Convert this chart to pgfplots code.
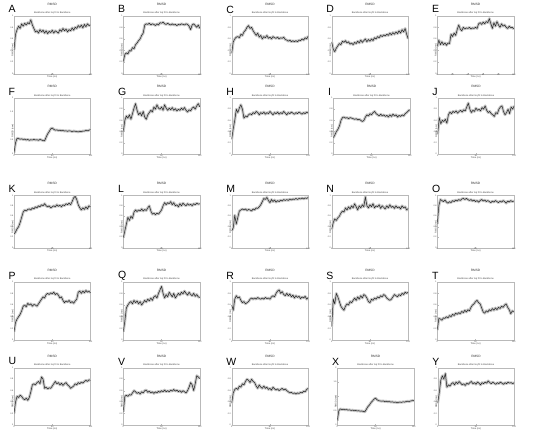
\documentclass[border=0pt]{standalone}
\usepackage{fontspec}
\setmainfont{Liberation Sans}
\usepackage{pgfplots}
\pgfplotsset{compat=1.18}
\pgfplotsset{
 panel/.style={
  scale only axis, width=76.5bp, anchor=north west,
  xmin=0, xmax=100, ymin=0, ymax=1,
  xtick={0,50,100}, ytick={0,0.2,0.4,0.6,0.8,1},
  axis line style={gray!55, line width=0.25pt},
  major tick length=1.2bp,
  tick style={gray!55, line width=0.25pt},
  xtick pos=bottom, ytick pos=left,
  tick label style={font=\fontsize{2.1}{2.5}\selectfont, text=black!75, inner sep=0.6bp},
  /pgf/number format/assume math mode=true,
  xlabel={Time (ns)}, ylabel={RMSD (nm)},
  label style={font=\fontsize{2.4}{2.8}\selectfont, text=black!75, inner sep=0pt},
  xlabel style={yshift=0.6bp},
  ylabel style={at={(rel axis cs:0,0.5)}, anchor=south, xshift=-5.2bp},
  title={RMSD},
  title style={at={(0.5,1)}, anchor=south, yshift=4.2bp, inner sep=0pt, font=\fontsize{3.2}{3.6}\selectfont, text=black!80},
  clip mode=individual,
  after end axis/.code={\node[subt] at (rel axis cs:0.5,1) {Backbone after lsq fit to Backbone};},
 },
 big/.style={ymax=2, ytick={0,0.5,1,1.5,2}},
 rline/.style={black!85, line width=0.5pt, line join=round, mark=none,
   preaction={draw=gray!45, line width=2.8pt, line join=round}},
}
\tikzset{letter/.style={anchor=west, font=\fontsize{10.5}{10.5}\selectfont, inner sep=0pt, xshift=-5.5bp, yshift=6.3bp},
 subt/.style={anchor=south, inner sep=0pt, yshift=1.2bp, font=\fontsize{2.4}{2.8}\selectfont, text=black!75}}
\begin{document}
\begin{tikzpicture}
\useasboundingbox (0,0) rectangle (550bp,-440bp);
% ---------- row 1
\begin{axis}[panel, at={(14bp,-15.7bp)}, height=58bp]
\addplot[rline] coordinates {(0,0.41)(2,0.68)(4,0.76)(6,0.82)(8,0.78)(10,0.86)(12,0.82)(14,0.87)(16,0.84)(18,0.88)(20,0.86)(22,0.93)(24,0.84)(26,0.78)(28,0.72)(30,0.74)(32,0.70)(34,0.76)(36,0.72)(38,0.75)(40,0.70)(42,0.74)(44,0.69)(46,0.73)(48,0.71)(50,0.75)(52,0.70)(54,0.74)(56,0.72)(58,0.70)(60,0.76)(62,0.73)(64,0.78)(66,0.74)(68,0.77)(70,0.72)(72,0.76)(74,0.74)(76,0.79)(78,0.75)(80,0.80)(82,0.78)(84,0.83)(86,0.80)(88,0.84)(90,0.79)(92,0.85)(94,0.81)(96,0.86)(98,0.83)(100,0.84)};
\node[letter] at (rel axis cs:0,1) {A};
\end{axis}
\begin{axis}[panel, at={(123.3bp,-15.7bp)}, height=58bp]
\addplot[rline] coordinates {(0,0.21)(2,0.33)(4,0.36)(6,0.34)(8,0.40)(10,0.39)(12,0.45)(14,0.43)(16,0.50)(18,0.53)(20,0.57)(22,0.60)(24,0.66)(26,0.70)(28,0.84)(30,0.86)(32,0.85)(34,0.87)(36,0.84)(38,0.86)(40,0.85)(42,0.83)(44,0.86)(46,0.84)(48,0.88)(50,0.87)(52,0.89)(54,0.86)(56,0.85)(58,0.87)(60,0.85)(62,0.84)(64,0.86)(66,0.84)(68,0.85)(70,0.83)(72,0.85)(74,0.84)(76,0.86)(78,0.85)(80,0.84)(82,0.86)(84,0.85)(86,0.82)(88,0.76)(90,0.84)(92,0.86)(94,0.83)(96,0.80)(98,0.84)(100,0.78)};
\node[letter] at (rel axis cs:0,1) {B};
\end{axis}
\begin{axis}[panel, at={(231.7bp,-15.7bp)}, height=58bp]
\addplot[rline] coordinates {(0,0.35)(2,0.55)(4,0.60)(6,0.63)(8,0.64)(10,0.62)(12,0.68)(14,0.66)(16,0.72)(18,0.75)(20,0.80)(22,0.83)(24,0.78)(26,0.80)(28,0.74)(30,0.70)(32,0.66)(34,0.70)(36,0.63)(38,0.66)(40,0.60)(42,0.64)(44,0.62)(46,0.66)(48,0.61)(50,0.63)(52,0.60)(54,0.64)(56,0.62)(58,0.61)(60,0.63)(62,0.60)(64,0.62)(66,0.61)(68,0.63)(70,0.59)(72,0.58)(74,0.56)(76,0.58)(78,0.55)(80,0.57)(82,0.55)(84,0.57)(86,0.55)(88,0.58)(90,0.57)(92,0.60)(94,0.58)(96,0.62)(98,0.60)(100,0.65)};
\node[letter] at (rel axis cs:0,1) {C};
\end{axis}
\begin{axis}[panel, at={(331.7bp,-15.7bp)}, height=58bp]
\addplot[rline] coordinates {(0,0.55)(2,0.42)(4,0.38)(6,0.44)(8,0.48)(10,0.52)(12,0.50)(14,0.56)(16,0.54)(18,0.57)(20,0.53)(22,0.55)(24,0.51)(26,0.53)(28,0.50)(30,0.54)(32,0.52)(34,0.56)(36,0.53)(38,0.58)(40,0.54)(42,0.57)(44,0.60)(46,0.55)(48,0.59)(50,0.56)(52,0.60)(54,0.57)(56,0.62)(58,0.60)(60,0.64)(62,0.62)(64,0.66)(66,0.64)(68,0.67)(70,0.65)(72,0.68)(74,0.66)(76,0.70)(78,0.67)(80,0.71)(82,0.68)(84,0.72)(86,0.69)(88,0.74)(90,0.70)(92,0.76)(94,0.72)(96,0.78)(98,0.68)(100,0.60)};
\node[letter] at (rel axis cs:0,1) {D};
\end{axis}
\begin{axis}[panel, at={(437.3bp,-15.7bp)}, height=58bp, xtick={0,20,40,60,80,100}]
\addplot[rline] coordinates {(0,0.47)(2,0.58)(4,0.50)(6,0.55)(8,0.50)(10,0.53)(12,0.49)(14,0.53)(16,0.52)(18,0.68)(20,0.64)(22,0.70)(24,0.66)(26,0.76)(28,0.84)(30,0.77)(32,0.74)(34,0.80)(36,0.77)(38,0.79)(40,0.78)(42,0.80)(44,0.77)(46,0.79)(48,0.78)(50,0.80)(52,0.78)(54,0.86)(56,0.88)(58,0.85)(60,0.89)(62,0.86)(64,0.90)(66,0.88)(68,0.95)(70,0.86)(72,0.78)(74,0.88)(76,0.82)(78,0.90)(80,0.84)(82,0.80)(84,0.86)(86,0.82)(88,0.84)(90,0.80)(92,0.78)(94,0.82)(96,0.79)(98,0.80)(100,0.77)};
\node[letter] at (rel axis cs:0,1) {E};
\end{axis}
% ---------- row 2
\begin{axis}[panel, big, at={(14bp,-98bp)}, height=56bp]
\addplot[rline] coordinates {(0,0.05)(2,0.40)(4,0.56)(6,0.55)(8,0.53)(10,0.54)(12,0.52)(14,0.53)(16,0.50)(18,0.52)(20,0.49)(22,0.51)(24,0.50)(26,0.52)(28,0.50)(30,0.51)(32,0.49)(34,0.52)(36,0.50)(38,0.48)(40,0.47)(42,0.60)(44,0.72)(46,0.80)(48,0.90)(50,0.93)(52,0.88)(54,0.85)(56,0.86)(58,0.84)(60,0.85)(62,0.83)(64,0.84)(66,0.82)(68,0.83)(70,0.81)(72,0.83)(74,0.82)(76,0.80)(78,0.82)(80,0.81)(82,0.80)(84,0.79)(86,0.81)(88,0.80)(90,0.82)(92,0.82)(94,0.84)(96,0.83)(98,0.85)(100,0.87)};
\node[letter] at (rel axis cs:0,1) {F};
\end{axis}
\begin{axis}[panel, at={(123.3bp,-98bp)}, height=56bp]
\addplot[rline] coordinates {(0,0.40)(2,0.60)(4,0.68)(6,0.64)(8,0.70)(10,0.62)(12,0.72)(14,0.82)(16,0.90)(18,0.78)(20,0.70)(22,0.74)(24,0.68)(26,0.76)(28,0.66)(30,0.62)(32,0.70)(34,0.74)(36,0.78)(38,0.75)(40,0.84)(42,0.80)(44,0.88)(46,0.82)(48,0.80)(50,0.84)(52,0.78)(54,0.88)(56,0.82)(58,0.78)(60,0.82)(62,0.79)(64,0.83)(66,0.78)(68,0.81)(70,0.77)(72,0.80)(74,0.78)(76,0.82)(78,0.79)(80,0.83)(82,0.78)(84,0.75)(86,0.79)(88,0.77)(90,0.82)(92,0.84)(94,0.80)(96,0.86)(98,0.90)(100,0.84)};
\node[letter] at (rel axis cs:0,1) {G};
\end{axis}
\begin{axis}[panel, at={(231.7bp,-98bp)}, height=56bp]
\addplot[rline] coordinates {(0,0.26)(2,0.45)(4,0.60)(6,0.80)(8,0.74)(10,0.82)(12,0.88)(14,0.80)(16,0.64)(18,0.68)(20,0.66)(22,0.70)(24,0.72)(26,0.70)(28,0.74)(30,0.72)(32,0.76)(34,0.74)(36,0.70)(38,0.74)(40,0.72)(42,0.75)(44,0.71)(46,0.74)(48,0.72)(50,0.76)(52,0.73)(54,0.70)(56,0.74)(58,0.72)(60,0.75)(62,0.71)(64,0.74)(66,0.72)(68,0.76)(70,0.73)(72,0.70)(74,0.74)(76,0.72)(78,0.75)(80,0.73)(82,0.71)(84,0.74)(86,0.72)(88,0.75)(90,0.73)(92,0.71)(94,0.74)(96,0.72)(98,0.75)(100,0.73)};
\node[letter] at (rel axis cs:0,1) {H};
\end{axis}
\begin{axis}[panel, at={(333.3bp,-98bp)}, height=56bp]
\addplot[rline] coordinates {(0,0.29)(2,0.34)(4,0.40)(6,0.44)(8,0.50)(10,0.60)(12,0.65)(14,0.66)(16,0.64)(18,0.65)(20,0.63)(22,0.65)(24,0.64)(26,0.63)(28,0.62)(30,0.63)(32,0.61)(34,0.62)(36,0.60)(38,0.58)(40,0.60)(42,0.66)(44,0.70)(46,0.68)(48,0.72)(50,0.70)(52,0.74)(54,0.76)(56,0.72)(58,0.70)(60,0.68)(62,0.71)(64,0.68)(66,0.70)(68,0.67)(70,0.69)(72,0.66)(74,0.70)(76,0.67)(78,0.71)(80,0.68)(82,0.70)(84,0.66)(86,0.69)(88,0.67)(90,0.70)(92,0.68)(94,0.72)(96,0.74)(98,0.77)(100,0.79)};
\node[letter] at (rel axis cs:0,1) {I};
\end{axis}
\begin{axis}[panel, at={(437.7bp,-98bp)}, height=56bp]
\addplot[rline] coordinates {(0,0.35)(2,0.65)(4,0.54)(6,0.60)(8,0.58)(10,0.62)(12,0.55)(14,0.70)(16,0.75)(18,0.72)(20,0.76)(22,0.74)(24,0.77)(26,0.73)(28,0.76)(30,0.78)(32,0.75)(34,0.79)(36,0.77)(38,0.84)(40,0.91)(42,0.80)(44,0.74)(46,0.78)(48,0.76)(50,0.82)(52,0.78)(54,0.80)(56,0.77)(58,0.83)(60,0.80)(62,0.86)(64,0.78)(66,0.74)(68,0.76)(70,0.72)(72,0.70)(74,0.67)(76,0.74)(78,0.72)(80,0.80)(82,0.84)(84,0.86)(86,0.76)(88,0.70)(90,0.74)(92,0.80)(94,0.72)(96,0.84)(98,0.80)(100,0.86)};
\node[letter] at (rel axis cs:0,1) {J};
\end{axis}
% ---------- row 3
\begin{axis}[panel, at={(14bp,-195.3bp)}, height=52.4bp]
\addplot[rline] coordinates {(0,0.26)(2,0.30)(4,0.36)(6,0.40)(8,0.48)(10,0.58)(12,0.68)(14,0.72)(16,0.70)(18,0.73)(20,0.74)(22,0.72)(24,0.76)(26,0.74)(28,0.78)(30,0.76)(32,0.80)(34,0.78)(36,0.82)(38,0.80)(40,0.84)(42,0.80)(44,0.78)(46,0.80)(48,0.76)(50,0.78)(52,0.80)(54,0.78)(56,0.82)(58,0.79)(60,0.81)(62,0.78)(64,0.82)(66,0.80)(68,0.84)(70,0.82)(72,0.85)(74,0.82)(76,0.88)(78,0.95)(80,0.98)(82,0.92)(84,0.82)(86,0.76)(88,0.72)(90,0.76)(92,0.73)(94,0.78)(96,0.74)(98,0.80)(100,0.78)};
\node[letter] at (rel axis cs:0,1) {K};
\end{axis}
\begin{axis}[panel, at={(123.3bp,-195.3bp)}, height=52.4bp]
\addplot[rline] coordinates {(0,0.19)(2,0.32)(4,0.45)(6,0.58)(8,0.52)(10,0.60)(12,0.56)(14,0.68)(16,0.72)(18,0.69)(20,0.72)(22,0.70)(24,0.74)(26,0.70)(28,0.73)(30,0.71)(32,0.76)(34,0.80)(36,0.70)(38,0.64)(40,0.66)(42,0.63)(44,0.66)(46,0.64)(48,0.68)(50,0.72)(52,0.80)(54,0.86)(56,0.82)(58,0.86)(60,0.84)(62,0.88)(64,0.82)(66,0.86)(68,0.80)(70,0.82)(72,0.78)(74,0.84)(76,0.80)(78,0.85)(80,0.82)(82,0.80)(84,0.84)(86,0.81)(88,0.83)(90,0.80)(92,0.84)(94,0.82)(96,0.85)(98,0.83)(100,0.84)};
\node[letter] at (rel axis cs:0,1) {L};
\end{axis}
\begin{axis}[panel, at={(231.7bp,-195.3bp)}, height=52.4bp]
\addplot[rline] coordinates {(0,0.32)(2,0.38)(4,0.62)(6,0.45)(8,0.58)(10,0.70)(12,0.72)(14,0.74)(16,0.72)(18,0.74)(20,0.71)(22,0.73)(24,0.72)(26,0.70)(28,0.74)(30,0.72)(32,0.76)(34,0.75)(36,0.78)(38,0.82)(40,0.88)(42,0.94)(44,0.92)(46,0.96)(48,0.90)(50,0.86)(52,0.92)(54,0.88)(56,0.91)(58,0.87)(60,0.90)(62,0.88)(64,0.91)(66,0.89)(68,0.92)(70,0.90)(72,0.92)(74,0.90)(76,0.93)(78,0.91)(80,0.93)(82,0.92)(84,0.94)(86,0.92)(88,0.94)(90,0.93)(92,0.95)(94,0.93)(96,0.95)(98,0.94)(100,0.96)};
\node[letter] at (rel axis cs:0,1) {M};
\end{axis}
\begin{axis}[panel, at={(331.7bp,-195.3bp)}, height=52.4bp]
\addplot[rline] coordinates {(0,0.35)(2,0.48)(4,0.55)(6,0.52)(8,0.57)(10,0.60)(12,0.66)(14,0.70)(16,0.68)(18,0.76)(20,0.72)(22,0.78)(24,0.74)(26,0.80)(28,0.76)(30,0.84)(32,0.78)(34,0.72)(36,0.80)(38,0.76)(40,0.82)(42,0.78)(44,0.97)(46,0.80)(48,0.76)(50,0.82)(52,0.78)(54,0.84)(56,0.76)(58,0.80)(60,0.78)(62,0.82)(64,0.75)(66,0.80)(68,0.77)(70,0.74)(72,0.80)(74,0.76)(76,0.82)(78,0.77)(80,0.79)(82,0.75)(84,0.80)(86,0.76)(88,0.78)(90,0.74)(92,0.80)(94,0.76)(96,0.78)(98,0.72)(100,0.75)};
\node[letter] at (rel axis cs:0,1) {N};
\end{axis}
\begin{axis}[panel, at={(437.3bp,-195.3bp)}, height=52.4bp]
\addplot[rline] coordinates {(0,0.45)(2,0.80)(4,0.92)(6,0.90)(8,0.88)(10,0.91)(12,0.87)(14,0.85)(16,0.88)(18,0.86)(20,0.90)(22,0.88)(24,0.91)(26,0.89)(28,0.92)(30,0.90)(32,0.93)(34,0.94)(36,0.92)(38,0.94)(40,0.92)(42,0.90)(44,0.92)(46,0.89)(48,0.91)(50,0.88)(52,0.90)(54,0.87)(56,0.90)(58,0.92)(60,0.89)(62,0.91)(64,0.88)(66,0.90)(68,0.88)(70,0.86)(72,0.89)(74,0.87)(76,0.90)(78,0.88)(80,0.86)(82,0.89)(84,0.87)(86,0.90)(88,0.88)(90,0.85)(92,0.89)(94,0.87)(96,0.90)(98,0.88)(100,0.89)};
\node[letter] at (rel axis cs:0,1) {O};
\end{axis}
% ---------- row 4
\begin{axis}[panel, at={(14bp,-281.7bp)}, height=58.3bp]
\addplot[rline] coordinates {(0,0.14)(2,0.30)(4,0.36)(6,0.40)(8,0.44)(10,0.50)(12,0.58)(14,0.60)(16,0.57)(18,0.63)(20,0.60)(22,0.62)(24,0.58)(26,0.61)(28,0.60)(30,0.58)(32,0.62)(34,0.66)(36,0.70)(38,0.74)(40,0.72)(42,0.78)(44,0.80)(46,0.78)(48,0.81)(50,0.79)(52,0.82)(54,0.78)(56,0.80)(58,0.77)(60,0.72)(62,0.74)(64,0.68)(66,0.64)(68,0.67)(70,0.65)(72,0.68)(74,0.64)(76,0.66)(78,0.63)(80,0.67)(82,0.70)(84,0.82)(86,0.84)(88,0.80)(90,0.84)(92,0.81)(94,0.85)(96,0.82)(98,0.84)(100,0.81)};
\node[letter] at (rel axis cs:0,1) {P};
\end{axis}
\begin{axis}[panel, at={(123.3bp,-281.7bp)}, height=58.3bp]
\addplot[rline] coordinates {(0,0.14)(2,0.32)(4,0.55)(6,0.60)(8,0.64)(10,0.66)(12,0.62)(14,0.68)(16,0.64)(18,0.67)(20,0.62)(22,0.66)(24,0.60)(26,0.64)(28,0.68)(30,0.65)(32,0.70)(34,0.67)(36,0.72)(38,0.68)(40,0.74)(42,0.76)(44,0.72)(46,0.80)(48,0.86)(50,0.92)(52,0.80)(54,0.72)(56,0.78)(58,0.74)(60,0.82)(62,0.78)(64,0.74)(66,0.80)(68,0.72)(70,0.76)(72,0.80)(74,0.77)(76,0.82)(78,0.79)(80,0.84)(82,0.80)(84,0.77)(86,0.82)(88,0.78)(90,0.76)(92,0.80)(94,0.75)(96,0.78)(98,0.74)(100,0.73)};
\node[letter] at (rel axis cs:0,1) {Q};
\end{axis}
\begin{axis}[panel, at={(231.7bp,-281.7bp)}, height=58.3bp]
\addplot[rline] coordinates {(0,0.60)(2,0.51)(4,0.70)(6,0.76)(8,0.72)(10,0.74)(12,0.68)(14,0.64)(16,0.66)(18,0.62)(20,0.64)(22,0.66)(24,0.70)(26,0.72)(28,0.70)(30,0.72)(32,0.70)(34,0.73)(36,0.71)(38,0.70)(40,0.72)(42,0.70)(44,0.73)(46,0.71)(48,0.72)(50,0.70)(52,0.74)(54,0.76)(56,0.74)(58,0.80)(60,0.84)(62,0.86)(64,0.80)(66,0.83)(68,0.78)(70,0.76)(72,0.80)(74,0.76)(76,0.79)(78,0.74)(80,0.77)(82,0.72)(84,0.76)(86,0.73)(88,0.75)(90,0.71)(92,0.74)(94,0.72)(96,0.75)(98,0.70)(100,0.73)};
\node[letter] at (rel axis cs:0,1) {R};
\end{axis}
\begin{axis}[panel, at={(331.7bp,-281.7bp)}, height=58.3bp]
\addplot[rline] coordinates {(0,0.23)(2,0.70)(4,0.62)(6,0.80)(8,0.74)(10,0.66)(12,0.58)(14,0.54)(16,0.51)(18,0.58)(20,0.62)(22,0.60)(24,0.66)(26,0.64)(28,0.68)(30,0.72)(32,0.68)(34,0.74)(36,0.70)(38,0.76)(40,0.72)(42,0.78)(44,0.76)(46,0.72)(48,0.66)(50,0.64)(52,0.70)(54,0.68)(56,0.72)(58,0.70)(60,0.74)(62,0.72)(64,0.76)(66,0.74)(68,0.78)(70,0.76)(72,0.72)(74,0.70)(76,0.68)(78,0.70)(80,0.74)(82,0.78)(84,0.76)(86,0.74)(88,0.78)(90,0.76)(92,0.80)(94,0.78)(96,0.82)(98,0.80)(100,0.82)};
\node[letter] at (rel axis cs:0,1) {S};
\end{axis}
\begin{axis}[panel, at={(437.3bp,-281.7bp)}, height=58.3bp]
\addplot[rline] coordinates {(0,0.17)(2,0.37)(4,0.36)(6,0.34)(8,0.38)(10,0.37)(12,0.40)(14,0.38)(16,0.42)(18,0.40)(20,0.44)(22,0.42)(24,0.46)(26,0.44)(28,0.47)(30,0.45)(32,0.49)(34,0.47)(36,0.51)(38,0.48)(40,0.52)(42,0.50)(44,0.56)(46,0.60)(48,0.62)(50,0.66)(52,0.68)(54,0.64)(56,0.62)(58,0.55)(60,0.48)(62,0.46)(64,0.50)(66,0.48)(68,0.52)(70,0.50)(72,0.54)(74,0.51)(76,0.55)(78,0.52)(80,0.56)(82,0.54)(84,0.58)(86,0.56)(88,0.60)(90,0.62)(92,0.56)(94,0.52)(96,0.45)(98,0.50)(100,0.48)};
\node[letter] at (rel axis cs:0,1) {T};
\end{axis}
% ---------- row 5
\begin{axis}[panel, at={(14bp,-367.7bp)}, height=57.3bp]
\addplot[rline] coordinates {(0,0.20)(2,0.40)(4,0.50)(6,0.48)(8,0.52)(10,0.50)(12,0.46)(14,0.44)(16,0.47)(18,0.43)(20,0.48)(22,0.58)(24,0.70)(26,0.72)(28,0.70)(30,0.74)(32,0.76)(34,0.72)(36,0.84)(38,0.80)(40,0.64)(42,0.66)(44,0.63)(46,0.65)(48,0.64)(50,0.68)(52,0.72)(54,0.76)(56,0.72)(58,0.74)(60,0.70)(62,0.73)(64,0.69)(66,0.72)(68,0.74)(70,0.70)(72,0.68)(74,0.64)(76,0.66)(78,0.68)(80,0.72)(82,0.70)(84,0.74)(86,0.72)(88,0.75)(90,0.73)(92,0.76)(94,0.78)(96,0.76)(98,0.79)(100,0.78)};
\node[letter] at (rel axis cs:0,1) {U};
\end{axis}
\begin{axis}[panel, at={(123.3bp,-367.7bp)}, height=57.3bp]
\addplot[rline] coordinates {(0,0.23)(2,0.50)(4,0.52)(6,0.50)(8,0.53)(10,0.52)(12,0.56)(14,0.60)(16,0.58)(18,0.55)(20,0.57)(22,0.54)(24,0.58)(26,0.56)(28,0.60)(30,0.61)(32,0.57)(34,0.59)(36,0.56)(38,0.58)(40,0.55)(42,0.58)(44,0.56)(46,0.59)(48,0.57)(50,0.60)(52,0.58)(54,0.61)(56,0.58)(58,0.60)(60,0.58)(62,0.61)(64,0.59)(66,0.62)(68,0.59)(70,0.61)(72,0.58)(74,0.60)(76,0.57)(78,0.60)(80,0.58)(82,0.56)(84,0.60)(86,0.66)(88,0.74)(90,0.70)(92,0.60)(94,0.72)(96,0.86)(98,0.84)(100,0.81)};
\node[letter] at (rel axis cs:0,1) {V};
\end{axis}
\begin{axis}[panel, at={(231.7bp,-367.7bp)}, height=57.3bp]
\addplot[rline] coordinates {(0,0.38)(2,0.56)(4,0.62)(6,0.64)(8,0.62)(10,0.68)(12,0.66)(14,0.72)(16,0.70)(18,0.76)(20,0.80)(22,0.78)(24,0.74)(26,0.80)(28,0.76)(30,0.74)(32,0.68)(34,0.64)(36,0.70)(38,0.66)(40,0.64)(42,0.68)(44,0.64)(46,0.66)(48,0.62)(50,0.64)(52,0.61)(54,0.66)(56,0.63)(58,0.61)(60,0.63)(62,0.60)(64,0.62)(66,0.64)(68,0.61)(70,0.63)(72,0.60)(74,0.58)(76,0.56)(78,0.57)(80,0.55)(82,0.56)(84,0.54)(86,0.56)(88,0.55)(90,0.57)(92,0.56)(94,0.59)(96,0.58)(98,0.62)(100,0.64)};
\node[letter] at (rel axis cs:0,1) {W};
\end{axis}
\begin{axis}[panel, big, at={(337.3bp,-367.7bp)}, height=57.3bp]
\addplot[rline] coordinates {(0,0.15)(2,0.50)(4,0.56)(6,0.54)(8,0.55)(10,0.53)(12,0.54)(14,0.52)(16,0.53)(18,0.51)(20,0.52)(22,0.50)(24,0.51)(26,0.49)(28,0.50)(30,0.48)(32,0.49)(34,0.47)(36,0.46)(38,0.55)(40,0.64)(42,0.70)(44,0.78)(46,0.84)(48,0.90)(50,0.94)(52,0.88)(54,0.85)(56,0.84)(58,0.83)(60,0.84)(62,0.82)(64,0.83)(66,0.81)(68,0.82)(70,0.80)(72,0.81)(74,0.79)(76,0.80)(78,0.78)(80,0.79)(82,0.80)(84,0.79)(86,0.81)(88,0.80)(90,0.82)(92,0.83)(94,0.82)(96,0.84)(98,0.85)(100,0.86)};
\node[letter] at (rel axis cs:0,1) {X};
\end{axis}
\begin{axis}[panel, at={(437.7bp,-367.7bp)}, height=57.3bp]
\addplot[rline] coordinates {(0,0.38)(2,0.56)(4,0.78)(6,0.86)(8,0.80)(10,0.90)(12,0.66)(14,0.70)(16,0.68)(18,0.72)(20,0.74)(22,0.70)(24,0.75)(26,0.72)(28,0.76)(30,0.73)(32,0.70)(34,0.72)(36,0.69)(38,0.73)(40,0.71)(42,0.74)(44,0.76)(46,0.72)(48,0.74)(50,0.71)(52,0.75)(54,0.73)(56,0.70)(58,0.74)(60,0.72)(62,0.75)(64,0.73)(66,0.77)(68,0.74)(70,0.72)(72,0.75)(74,0.73)(76,0.71)(78,0.74)(80,0.72)(82,0.75)(84,0.73)(86,0.71)(88,0.74)(90,0.72)(92,0.75)(94,0.73)(96,0.74)(98,0.72)(100,0.74)};
\node[letter] at (rel axis cs:0,1) {Y};
\end{axis}
\end{tikzpicture}
\end{document}
